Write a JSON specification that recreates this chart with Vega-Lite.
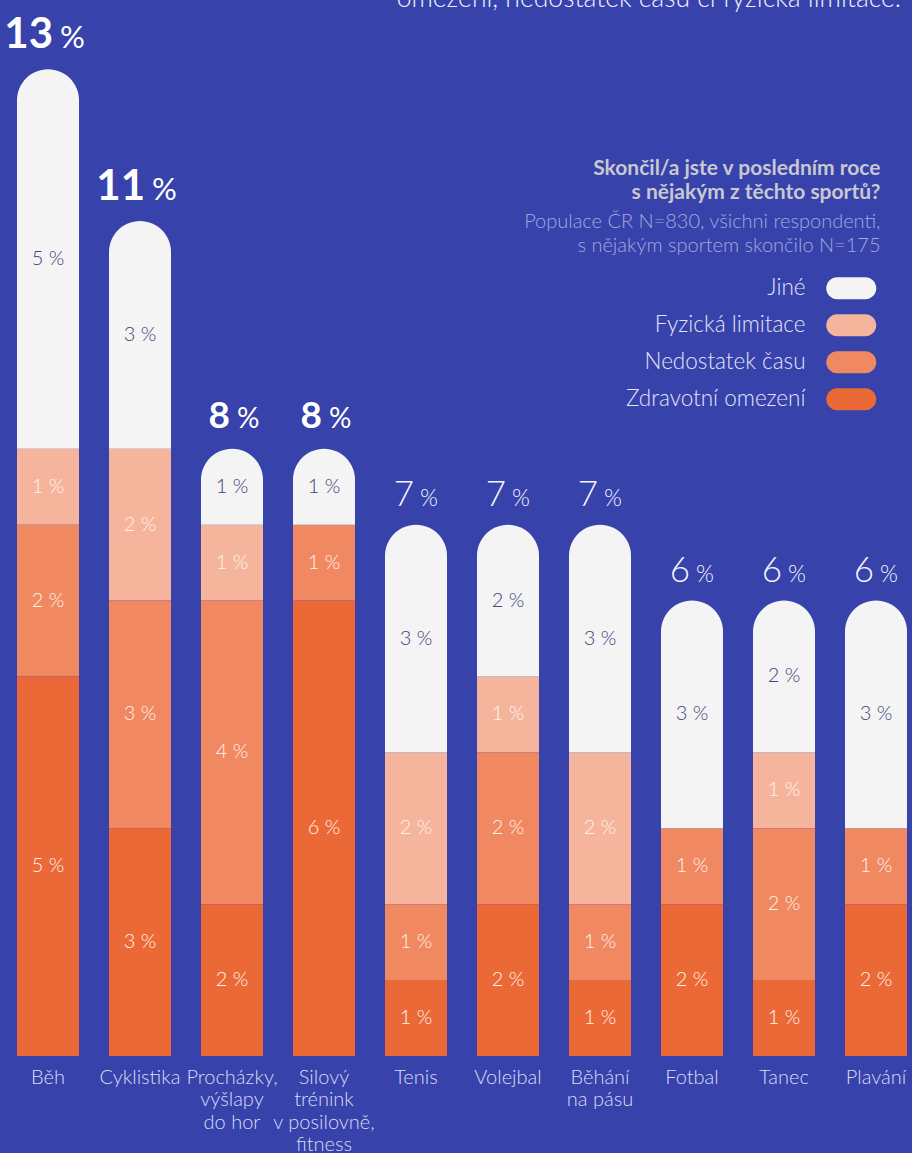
{
  "$schema": "https://vega.github.io/schema/vega-lite/v6.json",
  "width": 890,
  "height": 1056,
  "autosize": {"type": "none"},
  "padding": {"left": 17, "right": 5, "top": 0, "bottom": 97},
  "background": "#3742ab",
  "config": {"view": {"stroke": null}, "font": "Lato"},
  "title": {
    "text": "omezení, nedostatek času či fyzická limitace.",
    "anchor": "end", "frame": "group", "orient": "top", "offset": 0, "dy": 12, "dx": -6,
    "font": "Lato", "fontSize": 26.5, "fontWeight": 300, "color": "#f2f2fb"
  },
  "data": {
    "values": [
      {"sport": "Běh", "cause": "Jiné", "value": 5},
      {"sport": "Běh", "cause": "Fyzická limitace", "value": 1},
      {"sport": "Běh", "cause": "Nedostatek času", "value": 2},
      {"sport": "Běh", "cause": "Zdravotní omezení", "value": 5},
      {"sport": "Cyklistika", "cause": "Jiné", "value": 3},
      {"sport": "Cyklistika", "cause": "Fyzická limitace", "value": 2},
      {"sport": "Cyklistika", "cause": "Nedostatek času", "value": 3},
      {"sport": "Cyklistika", "cause": "Zdravotní omezení", "value": 3},
      {"sport": "Procházky, výšlapy do hor", "cause": "Jiné", "value": 1},
      {"sport": "Procházky, výšlapy do hor", "cause": "Fyzická limitace", "value": 1},
      {"sport": "Procházky, výšlapy do hor", "cause": "Nedostatek času", "value": 4},
      {"sport": "Procházky, výšlapy do hor", "cause": "Zdravotní omezení", "value": 2},
      {"sport": "Silový trénink v posilovně, fitness", "cause": "Jiné", "value": 1},
      {"sport": "Silový trénink v posilovně, fitness", "cause": "Fyzická limitace", "value": 0},
      {"sport": "Silový trénink v posilovně, fitness", "cause": "Nedostatek času", "value": 1},
      {"sport": "Silový trénink v posilovně, fitness", "cause": "Zdravotní omezení", "value": 6},
      {"sport": "Tenis", "cause": "Jiné", "value": 3},
      {"sport": "Tenis", "cause": "Fyzická limitace", "value": 2},
      {"sport": "Tenis", "cause": "Nedostatek času", "value": 1},
      {"sport": "Tenis", "cause": "Zdravotní omezení", "value": 1},
      {"sport": "Volejbal", "cause": "Jiné", "value": 2},
      {"sport": "Volejbal", "cause": "Fyzická limitace", "value": 1},
      {"sport": "Volejbal", "cause": "Nedostatek času", "value": 2},
      {"sport": "Volejbal", "cause": "Zdravotní omezení", "value": 2},
      {"sport": "Běhání na pásu", "cause": "Jiné", "value": 3},
      {"sport": "Běhání na pásu", "cause": "Fyzická limitace", "value": 2},
      {"sport": "Běhání na pásu", "cause": "Nedostatek času", "value": 1},
      {"sport": "Běhání na pásu", "cause": "Zdravotní omezení", "value": 1},
      {"sport": "Fotbal", "cause": "Jiné", "value": 3},
      {"sport": "Fotbal", "cause": "Fyzická limitace", "value": 0},
      {"sport": "Fotbal", "cause": "Nedostatek času", "value": 1},
      {"sport": "Fotbal", "cause": "Zdravotní omezení", "value": 2},
      {"sport": "Tanec", "cause": "Jiné", "value": 2},
      {"sport": "Tanec", "cause": "Fyzická limitace", "value": 1},
      {"sport": "Tanec", "cause": "Nedostatek času", "value": 2},
      {"sport": "Tanec", "cause": "Zdravotní omezení", "value": 1},
      {"sport": "Plavání", "cause": "Jiné", "value": 3},
      {"sport": "Plavání", "cause": "Fyzická limitace", "value": 0},
      {"sport": "Plavání", "cause": "Nedostatek času", "value": 1},
      {"sport": "Plavání", "cause": "Zdravotní omezení", "value": 2}
    ]
  },
  "transform": [
    {"calculate": "indexof(['Zdravotní omezení','Nedostatek času','Fyzická limitace','Jiné'], datum.cause)", "as": "ord"},
    {"stack": "value", "groupby": ["sport"], "sort": [{"field": "ord", "order": "ascending"}], "as": ["v0", "v1"]},
    {"calculate": "(datum.v0 + datum.v1) / 2", "as": "mid"},
    {"calculate": "datum.value + ' %'", "as": "lbl"}
  ],
  "encoding": {
    "x": {
      "field": "sport", "type": "nominal",
      "sort": ["Běh", "Cyklistika", "Procházky, výšlapy do hor", "Silový trénink v posilovně, fitness", "Tenis", "Volejbal", "Běhání na pásu", "Fotbal", "Tanec", "Plavání"],
      "scale": {"paddingInner": 0.326, "paddingOuter": 0},
      "axis": {
        "orient": "bottom", "domain": false, "ticks": false, "grid": false,
        "labelAngle": 0, "labelAlign": "center", "labelBaseline": "top",
        "labelFont": "Lato", "labelFontSize": 20, "labelFontWeight": 300, "labelColor": "#dcdcf4",
        "labelPadding": 11, "labelLineHeight": 22.5, "labelOverlap": false, "labelBound": false, "labelLimit": 300,
        "labelExpr": "datum.label == 'Procházky, výšlapy do hor' ? ['Procházky,', 'výšlapy', 'do hor'] : datum.label == 'Silový trénink v posilovně, fitness' ? ['Silový', 'trénink', 'v posilovně,', 'fitness'] : datum.label == 'Běhání na pásu' ? ['Běhání', 'na pásu'] : datum.label",
        "title": ["Populace ČR N=830, všichni respondenti,", "s nějakým sportem skončilo N=175"],
        "titleX": 863, "titleY": -829, "titleAlign": "right", "titleBaseline": "alphabetic", "titleAngle": 0,
        "titleFont": "Lato", "titleFontSize": 20, "titleFontWeight": 300, "titleColor": "#a6a8dc", "titleLineHeight": 24
      }
    },
    "y": {
      "field": "v0", "type": "quantitative",
      "scale": {"domain": [0, 13.913], "nice": false, "zero": true},
      "axis": {
        "labels": false, "ticks": false, "domain": false, "grid": false,
        "title": ["Skončil/a jste v posledním roce", "s nějakým z těchto sportů?"],
        "titleX": 863, "titleY": 174, "titleAlign": "right", "titleBaseline": "alphabetic", "titleAngle": 0,
        "titleFont": "Lato", "titleFontSize": 21, "titleFontWeight": 700, "titleColor": "#c8c8d0", "titleLineHeight": 24
      }
    }
  },
  "layer": [
    {
      "transform": [{"filter": "datum.cause !== 'Jiné'"}],
      "mark": {"type": "bar"},
      "encoding": {
        "y2": {"field": "v1"},
        "color": {
          "field": "cause", "type": "nominal",
          "scale": {
            "domain": ["Jiné", "Fyzická limitace", "Nedostatek času", "Zdravotní omezení"],
            "range": ["#f4f4f4", "#f5b59c", "#f08861", "#eb6937"]
          },
          "legend": {
            "orient": "none", "legendX": 823, "legendY": 277, "title": null, "padding": 0,
            "symbolType": "M-1.2727,-1 L1.2727,-1 A1,1 0 0 1 1.2727,1 L-1.2727,1 A1,1 0 0 1 -1.2727,-1 Z",
            "symbolSize": 484, "symbolStrokeWidth": 0, "symbolOpacity": 1,
            "labelAlign": "right", "labelOffset": -57, "labelFont": "Lato", "labelFontSize": 22.5, "labelFontWeight": 300,
            "labelColor": "#e4e4f6", "labelLimit": 300, "rowPadding": 14
          }
        }
      }
    },
    {
      "transform": [{"filter": "datum.cause === 'Jiné'"}],
      "mark": {"type": "bar", "cornerRadiusTopLeft": 31, "cornerRadiusTopRight": 31},
      "encoding": {
        "y2": {"field": "v1"},
        "color": {"field": "cause", "type": "nominal"}
      }
    },
    {
      "transform": [{"filter": "datum.value > 0"}],
      "mark": {"type": "text", "baseline": "middle", "align": "center", "font": "Lato", "fontSize": 20, "fontWeight": 300},
      "encoding": {
        "y": {"field": "mid", "type": "quantitative"},
        "text": {"field": "lbl"},
        "color": {"condition": {"test": "datum.cause === 'Jiné'", "value": "#40427a"}, "value": "#fff3ea"}
      }
    },
    {
      "transform": [{"filter": "datum.cause === 'Jiné' && datum.v1 >= 10"}],
      "mark": {"type": "text", "baseline": "alphabetic", "align": "right", "dx": 5, "dy": -21, "font": "Lato", "fontSize": 42, "fontWeight": 700, "color": "#ffffff"},
      "encoding": {
        "y": {"field": "v1", "type": "quantitative"},
        "text": {"field": "v1"}
      }
    },
    {
      "transform": [{"filter": "datum.cause === 'Jiné' && datum.v1 >= 10"}],
      "mark": {"type": "text", "baseline": "alphabetic", "align": "left", "dx": 12, "dy": -21, "font": "Lato", "fontSize": 31, "fontWeight": 400, "color": "#ffffff"},
      "encoding": {
        "y": {"field": "v1", "type": "quantitative"},
        "text": {"value": "%"}
      }
    },
    {
      "transform": [{"filter": "datum.cause === 'Jiné' && datum.v1 >= 8 && datum.v1 < 10"}],
      "mark": {"type": "text", "baseline": "alphabetic", "align": "right", "dx": -2, "dy": -21, "font": "Lato", "fontSize": 37, "fontWeight": 700, "color": "#ffffff"},
      "encoding": {
        "y": {"field": "v1", "type": "quantitative"},
        "text": {"field": "v1"}
      }
    },
    {
      "transform": [{"filter": "datum.cause === 'Jiné' && datum.v1 >= 8 && datum.v1 < 10"}],
      "mark": {"type": "text", "baseline": "alphabetic", "align": "left", "dx": 5, "dy": -21, "font": "Lato", "fontSize": 28, "fontWeight": 400, "color": "#ffffff"},
      "encoding": {
        "y": {"field": "v1", "type": "quantitative"},
        "text": {"value": "%"}
      }
    },
    {
      "transform": [{"filter": "datum.cause === 'Jiné' && datum.v1 < 8"}],
      "mark": {"type": "text", "baseline": "alphabetic", "align": "right", "dx": -2, "dy": -19, "font": "Lato", "fontSize": 35, "fontWeight": 300, "color": "#f4f4fc"},
      "encoding": {
        "y": {"field": "v1", "type": "quantitative"},
        "text": {"field": "v1"}
      }
    },
    {
      "transform": [{"filter": "datum.cause === 'Jiné' && datum.v1 < 8"}],
      "mark": {"type": "text", "baseline": "alphabetic", "align": "left", "dx": 4, "dy": -19, "font": "Lato", "fontSize": 23, "fontWeight": 300, "color": "#f4f4fc"},
      "encoding": {
        "y": {"field": "v1", "type": "quantitative"},
        "text": {"value": "%"}
      }
    }
  ]
}
